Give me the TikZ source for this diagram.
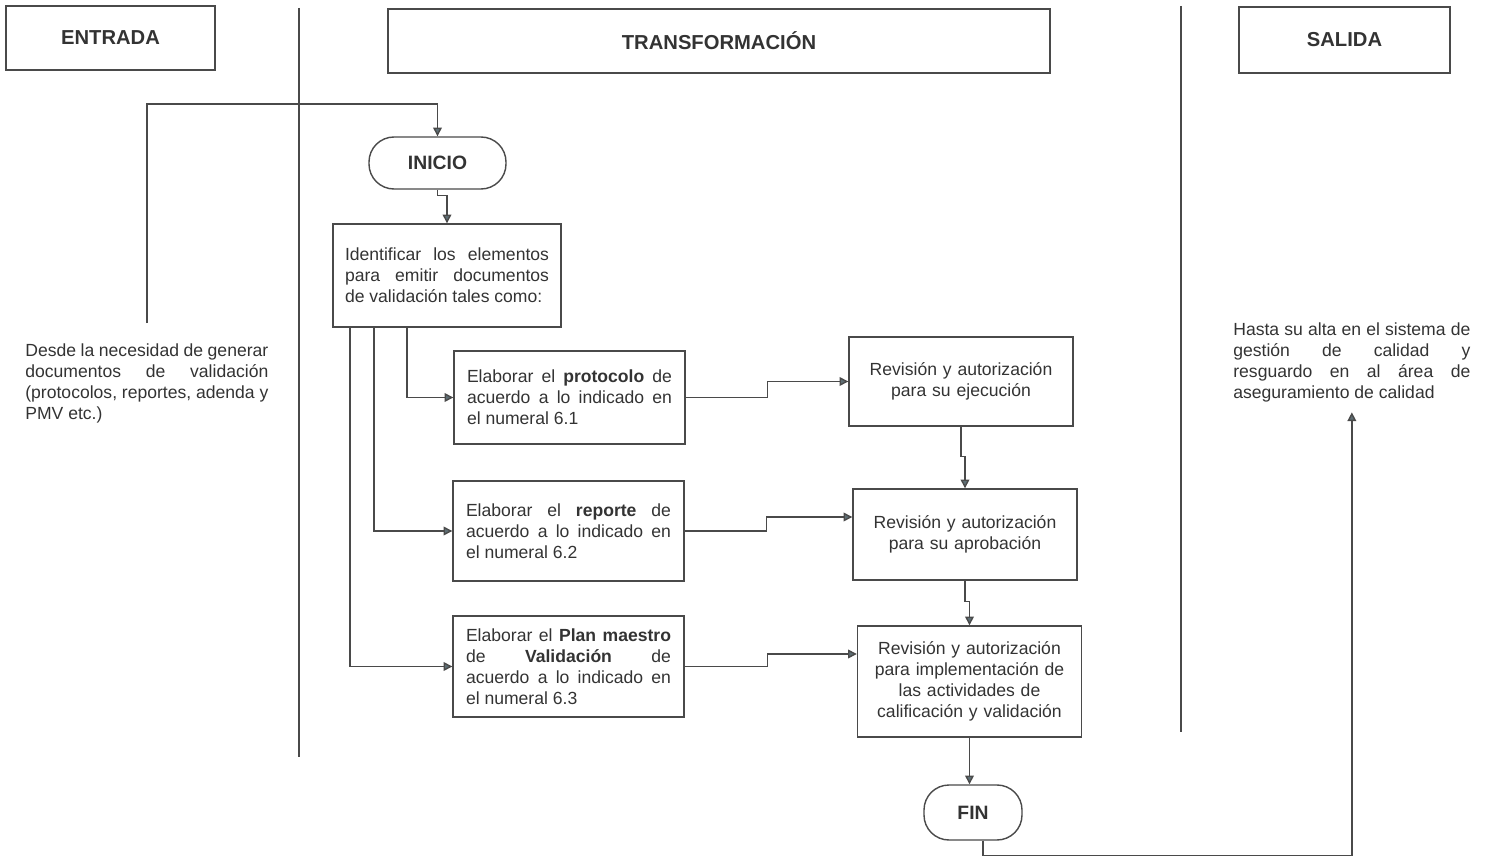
\documentclass[tikz,border=0pt]{standalone}
\usepackage{fontspec}
\setmainfont{Liberation Sans}
\usetikzlibrary{arrows.meta}
\definecolor{linea}{HTML}{4A4A4A}
\definecolor{texto}{HTML}{333333}
\definecolor{punta}{HTML}{5E6E74}

\tikzset{
	encabezado/.style={draw=linea, line width=0.8pt, text=texto, font=\fontsize{11.5}{14}\selectfont\bfseries, minimum height=1.28cm},
	caja/.style={draw=linea, line width=0.8pt, text=texto, font=\fontsize{10}{12}\selectfont, text width=4.1cm, inner xsep=0.26cm, align=justify},
	revision/.style={caja, text width=4.0cm, inner xsep=0.24cm, align=center},
	terminal/.style={draw=linea, line width=0.8pt, text=texto, font=\fontsize{11}{13}\selectfont\bfseries, rounded corners=0.5cm},
	nota/.style={text=texto, font=\fontsize{10}{12}\selectfont, inner sep=0pt, anchor=north west, align=justify},
	flecha/.style={draw=linea, line width=0.8pt, -{Triangle[width=5pt,length=5pt,fill=punta]}},
	carril/.style={draw=linea, line width=0.8pt}
}

\begin{document}
\begin{tikzpicture}
	\useasboundingbox (0,0) rectangle (29.78,17.16);

	\node[encabezado, minimum width=4.18cm] (entrada) at (2.21,16.4) {ENTRADA};
	\node[encabezado, minimum width=13.24cm] (transf) at (14.38,16.34) {TRANSFORMACIÓN};
	\node[encabezado, minimum width=4.22cm, minimum height=1.32cm] (salida) at (26.89,16.36) {SALIDA};

	\draw[carril] (5.98,17.0) -- (5.98,2.02);
	\draw[carril] (23.62,17.04) -- (23.62,2.52);

	\node[nota, text width=4.86cm] (entradatxt) at (0.5,10.3) {Desde la necesidad de generar\linebreak documentos de validación\linebreak (protocolos, reportes, adenda y\linebreak PMV etc.)};
	\node[nota, text width=4.74cm] (salidatxt) at (24.66,10.72) {Hasta su alta en el sistema de\linebreak gestión de calidad y\linebreak resguardo en al área de\linebreak aseguramiento de calidad};

	\node[terminal, minimum width=2.74cm, minimum height=1.04cm] (inicio) at (8.75,13.9) {INICIO};
	\node[caja, text width=4.08cm, inner xsep=0.24cm, minimum height=2.06cm] (ident) at (8.94,11.65) {Identificar los elementos\linebreak para emitir documentos\linebreak de validación tales como:};

	\node[caja, minimum height=1.86cm] (e1) at (11.39,9.21) {Elaborar el \textbf{protocolo} de\linebreak acuerdo a lo indicado en\linebreak el numeral 6.1};
	\node[caja, minimum height=2.0cm] (e2) at (11.37,6.54) {Elaborar el \textbf{reporte} de\linebreak acuerdo a lo indicado en\linebreak el numeral 6.2};
	\node[caja, minimum height=2.02cm] (e3) at (11.37,3.83) {Elaborar el \textbf{Plan maestro}\linebreak de \textbf{Validación} de\linebreak acuerdo a lo indicado en\linebreak el numeral 6.3};

	\node[revision, minimum height=1.78cm] (r1) at (19.22,9.53) {Revisión y autorización\\para su ejecución};
	\node[revision, minimum height=1.82cm] (r2) at (19.3,6.47) {Revisión y autorización\\para su aprobación};
	\node[revision, minimum height=2.22cm] (r3) at (19.39,3.53) {Revisión y autorización\\para implementación de\\las actividades de\\calificación y validación};

	\node[terminal, minimum width=1.96cm, minimum height=1.1cm] (fin) at (19.46,0.91) {FIN};

	\coordinate (origen) at (2.94,10.7);
	\draw[flecha] (origen) -- ++(0,4.38) -| (inicio.north);
	\draw[flecha] (inicio.south) -- ++(0,-0.12) -| (ident.north);

	\draw[flecha] ([xshift=-0.8cm]ident.south) |- (e1.west);
	\draw[flecha] ([xshift=-1.46cm]ident.south) |- (e2.west);
	\draw[flecha] ([xshift=-1.94cm]ident.south) |- (e3.west);

	\draw[flecha] (e1.east) -- ++(1.64,0) |- (r1.west);
	\draw[flecha] (e2.east) -- ++(1.64,0) |- ([yshift=0.35cm]r2.west);
	\draw[flecha] (e3.east) -- ++(1.66,0) |- ([yshift=0.55cm]r3.west);

	\draw[flecha] (r1.south) -- ++(0,-0.6) -| (r2.north);
	\draw[flecha] (r2.south) -- ++(0,-0.42) -| (r3.north);
	\draw[flecha] (r3.south) -- (r3.south |- fin.north);

	\draw[flecha] ([xshift=0.2cm]fin.south) -- ++(0,-0.3) -| ([yshift=-0.2cm]salidatxt.south);
\end{tikzpicture}
\end{document}
